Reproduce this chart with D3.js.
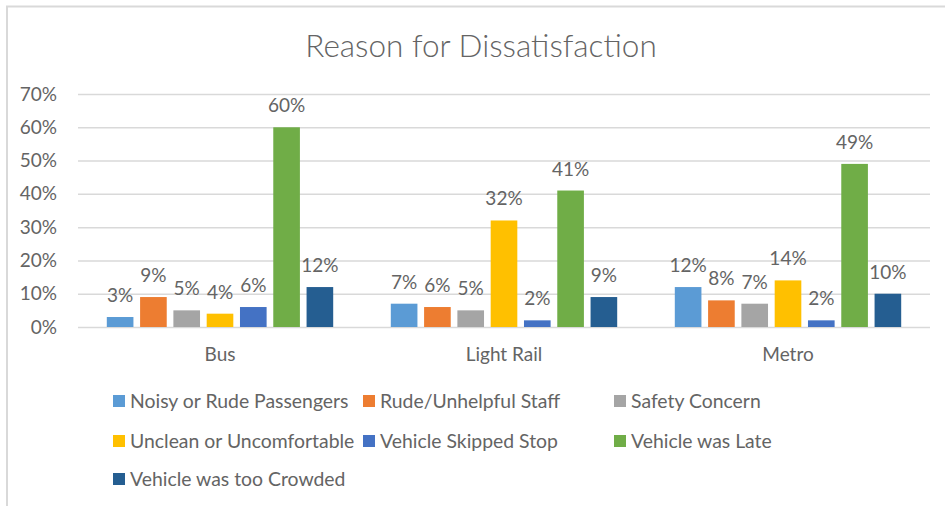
<!DOCTYPE html>
<html>
<head>
<meta charset="utf-8">
<script src="https://cdn.jsdelivr.net/npm/d3@7"></script>
<style>
  html, body { margin: 0; padding: 0; background: #fff; }
  svg { display: block; font-family: Lato, "Open Sans", sans-serif; }
</style>
</head>
<body>
<svg id="chart" width="945" height="506"></svg>
<script>
// Survey results: share of riders citing each reason, by transit mode
const categories = ["Bus", "Light Rail", "Metro"];
const seriesNames = [
  "Noisy or Rude Passengers",
  "Rude/Unhelpful Staff",
  "Safety Concern",
  "Unclean or Uncomfortable",
  "Vehicle Skipped Stop",
  "Vehicle was Late",
  "Vehicle was too Crowded"
];
// values per series, ordered as in categories
const noisyPassengers = [0.03, 0.07, 0.12];
const rudeStaff       = [0.09, 0.06, 0.08];
const safetyConcern   = [0.05, 0.05, 0.07];
const unclean         = [0.04, 0.32, 0.14];
const skippedStop     = [0.06, 0.02, 0.02];
const late            = [0.60, 0.41, 0.49];
const crowded         = [0.12, 0.09, 0.10];
const yTicks = [0, 0.1, 0.2, 0.3, 0.4, 0.5, 0.6, 0.7];

const seriesValues = [noisyPassengers, rudeStaff, safetyConcern, unclean, skippedStop, late, crowded];
const colors = ["#5B9BD5", "#ED7D31", "#A5A5A5", "#FFC000", "#4472C4", "#70AD47", "#255E91"];

const svg = d3.select("#chart");
const textColor = "#646464";
const fontSize = 19;
const pct = d3.format(".0%");

// chart frame
svg.append("path")
  .attr("d", "M7,506 V6.5 H945")
  .attr("fill", "none")
  .attr("stroke", "#D9D9D9")
  .attr("stroke-width", 2);

// title
svg.append("text")
  .attr("x", 481).attr("y", 57)
  .attr("text-anchor", "middle")
  .attr("font-size", 31.5)
  .attr("font-weight", 300)
  .attr("fill", textColor)
  .text("Reason for Dissatisfaction");

const plot = { left: 78, right: 930, top: 94, bottom: 327 };

const y = d3.scaleLinear().domain([0, 0.7]).range([plot.bottom, plot.top]);
const x0 = d3.scaleBand().domain(categories).range([plot.left, plot.right]);
const x1 = d3.scaleBand().domain(seriesNames).range([0, x0.bandwidth()])
  .paddingInner(0.2).paddingOuter(0.865);

// gridlines + y tick labels
const yAxis = d3.axisLeft(y).tickValues(yTicks).tickFormat(pct)
  .tickSize(-(plot.right - plot.left)).tickPadding(21);
const gy = svg.append("g").attr("transform", `translate(${plot.left},0)`).call(yAxis);
gy.select(".domain").remove();
gy.selectAll(".tick line").attr("stroke", "#D9D9D9").attr("stroke-width", 1.5);
gy.selectAll(".tick text").attr("fill", textColor).attr("font-size", fontSize)
  .attr("font-family", "Lato, sans-serif");

// category axis labels
const xAxis = d3.axisBottom(x0).tickSize(0).tickPadding(21);
const gx = svg.append("g").attr("transform", `translate(0,${plot.bottom})`).call(xAxis);
gx.select(".domain").remove();
gx.selectAll(".tick text").attr("fill", textColor).attr("font-size", fontSize)
  .attr("font-family", "Lato, sans-serif");

// bars
const rows = categories.map((c, ci) => ({
  category: c,
  values: seriesNames.map((s, si) => ({ series: s, index: si, value: seriesValues[si][ci] }))
}));

const groups = svg.append("g").selectAll("g")
  .data(rows).join("g")
  .attr("transform", d => `translate(${x0(d.category)},0)`);

groups.selectAll("rect")
  .data(d => d.values).join("rect")
  .attr("x", d => x1(d.series))
  .attr("y", d => y(d.value))
  .attr("width", x1.bandwidth())
  .attr("height", d => y(0) - y(d.value))
  .attr("fill", d => colors[d.index]);

groups.selectAll("text")
  .data(d => d.values).join("text")
  .attr("x", d => x1(d.series) + x1.bandwidth() / 2)
  .attr("y", d => y(d.value) - 15)
  .attr("text-anchor", "middle")
  .attr("font-size", fontSize)
  .attr("fill", textColor)
  .text(d => pct(d.value));

// legend
const legendCols = [113, 363, 614];
const legendRows = [401, 441, 479];
const legend = svg.append("g").selectAll("g")
  .data(seriesNames).join("g")
  .attr("transform", (d, i) => `translate(${legendCols[i % 3]},${legendRows[Math.floor(i / 3)]})`);
legend.append("rect")
  .attr("x", 0).attr("y", -6).attr("width", 12).attr("height", 12)
  .attr("fill", (d, i) => colors[i]);
legend.append("text")
  .attr("x", 17).attr("y", 0).attr("dy", "0.35em")
  .attr("font-size", fontSize + 0.4)
  .attr("fill", textColor)
  .text(d => d);
</script>
</body>
</html>
